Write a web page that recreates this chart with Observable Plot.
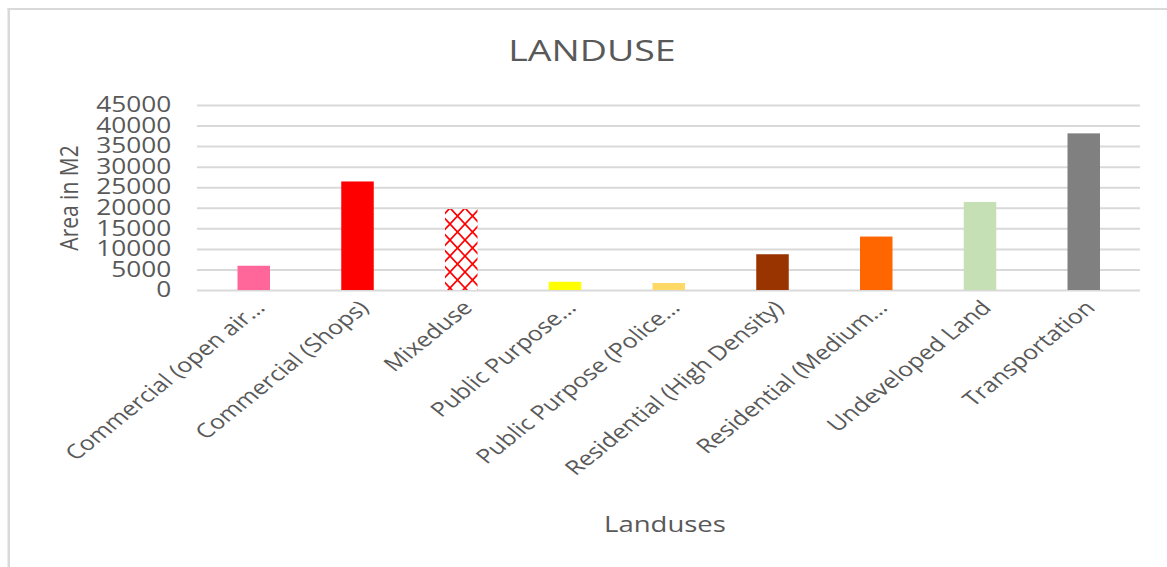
<!DOCTYPE html>
<html>
<head>
<meta charset="utf-8">
<script src="https://cdn.jsdelivr.net/npm/d3@7"></script>
<script src="https://cdn.jsdelivr.net/npm/@observablehq/plot@0.6"></script>
<style>
  body { margin: 0; background: #fff; }
  #wrap { position: absolute; left: 0; top: 0; width: 934px; height: 567px; transform: scaleX(1.25); transform-origin: 0 0; font-family: "Open Sans", sans-serif; color: #595959; overflow: hidden; }
  #frame { position: absolute; left: 5.6px; top: 8px; right: -6px; bottom: -6px; border-left: 2px solid #d9d9d9; border-top: 2px solid #d9d9d9; }
  #title { position: absolute; left: 0; width: 947.2px; top: 35px; text-align: center; font-size: 30px; line-height: 30px; white-space: nowrap; }
  #chart { position: absolute; left: 0; top: 80px; }
  #xlabel { position: absolute; left: 0; width: 1064px; top: 512px; text-align: center; font-size: 22px; line-height: 22px; white-space: nowrap; }
</style>
</head>
<body>
<div id="wrap">
  <div id="frame"></div>
  <div id="title">LANDUSE</div>
  <div id="chart"></div>
  <div id="xlabel">Landuses</div>
</div>
<script>
const categories = [
  "Commercial (open air…",
  "Commercial (Shops)",
  "Mixeduse",
  "Public Purpose…",
  "Public Purpose (Police…",
  "Residential (High Density)",
  "Residential (Medium…",
  "Undeveloped Land",
  "Transportation"
];
const areas = [5900, 26400, 19700, 2000, 1700, 8700, 13000, 21400, 38100];
const barColors = ["#ff6699", "#ff0000", "url(#mixPattern)", "#ffff00", "#ffd966", "#993300", "#ff6600", "#c5e0b4", "#808080"];
const yTicks = [0, 5000, 10000, 15000, 20000, 25000, 30000, 35000, 40000, 45000];

const data = categories.map((c, i) => ({category: c, area: areas[i]}));

const chart = Plot.plot({
  width: 934,
  height: 420,
  marginLeft: 157.6,
  marginRight: 22,
  marginTop: 25,
  marginBottom: 210,
  style: {fontFamily: "'Open Sans', sans-serif", fontSize: "21px", color: "#595959", background: "transparent", overflow: "visible"},
  x: {domain: categories, paddingInner: 0.685, paddingOuter: 0.3425, label: null},
  y: {domain: [0, 45000]},
  color: {type: "ordinal", domain: categories, range: barColors},
  marks: [
    Plot.ruleY(yTicks, {stroke: "#d9d9d9", strokeWidth: 2}),
    Plot.barY(data, {x: "category", y: "area", fill: "category"}),
    Plot.axisX({tickSize: 0, tickRotate: -45, tickPadding: 14, dx: 5, fontSize: 20, label: null}),
    Plot.axisY({ticks: yTicks, tickSize: 0, tickPadding: 21, tickFormat: d3.format("d"), fontSize: 21,
      label: "Area in M2", labelAnchor: "center", labelArrow: "none", labelOffset: 111})
  ]
});

const defs = d3.select(chart).insert("defs", ":first-child");
const pat = defs.append("pattern")
  .attr("id", "mixPattern")
  .attr("patternUnits", "userSpaceOnUse")
  .attr("width", 12)
  .attr("height", 16);
pat.append("rect").attr("width", 12).attr("height", 16).attr("fill", "#ffffff");
pat.append("path").attr("d", "M0,0L12,16M12,0L0,16")
  .attr("stroke", "#ff0000").attr("stroke-width", 1.5).attr("fill", "none");

document.getElementById("chart").appendChild(chart);
</script>
</body>
</html>
